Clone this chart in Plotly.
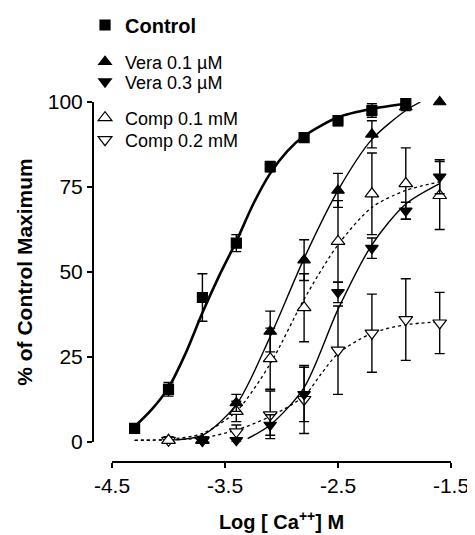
import plotly.graph_objects as go

# ---- data ----
x_ctrl = [-4.3, -4.0, -3.7, -3.4, -3.1, -2.8, -2.5, -2.2, -1.9]
y_ctrl = [4, 15.5, 42.5, 58.5, 81, 89.5, 94.5, 97.5, 99.5]
e_ctrl = [1, 2, 7, 2.5, 1.5, 1, 1.5, 2, 1]

x_v1 = [-3.7, -3.4, -3.1, -2.8, -2.5, -2.2, -1.9, -1.6]
y_v1 = [0.5, 11.5, 32.5, 53.5, 74, 90.5, 98.5, 100]
e_v1 = [0.5, 2.5, 6, 6, 5, 4, 1, 0]

x_v3 = [-3.7, -3.4, -3.1, -2.8, -2.5, -2.2, -1.9, -1.6]
y_v3 = [0.3, 0.5, 5, 14, 44, 57, 68, 78]
e_v3 = [0.5, 0.5, 3, 8, 3, 3, 2.5, 5]

x_c1 = [-4.0, -3.7, -3.4, -3.1, -2.8, -2.5, -2.2, -1.9, -1.6]
y_c1 = [0.5, 0.5, 9, 24.5, 39.5, 59, 73, 76, 72.5]
e_c1 = [1, 1, 3, 9, 10, 12, 12, 10.5, 10]

x_c2 = [-4.0, -3.7, -3.4, -3.1, -2.8, -2.5, -2.2, -1.9, -1.6]
y_c2 = [0.5, 0.5, 3, 8, 12.5, 27, 32, 36, 35]
e_c2 = [1, 1, 2, 7, 10, 13, 11.5, 12, 9]

# fitted curves, values
cx_ctrl = [-4.3, -4.15, -4.0, -3.85, -3.7, -3.55, -3.4, -3.25, -3.1, -2.95, -2.8, -2.5, -2.2, -1.9]
cy_ctrl = [4.5, 9.5, 16, 26, 38, 49, 59, 70, 79, 85.5, 90, 95.5, 98, 99.5]

cx_v1 = [-4.0, -3.7, -3.4, -3.1, -2.8, -2.5, -2.2, -1.9, -1.77]
cy_v1 = [0.5, 2, 11, 31, 54, 74, 89, 97.5, 100]

cx_v3 = [-3.3, -3.1, -2.8, -2.5, -2.2, -1.9, -1.6]
cy_v3 = [1, 5, 16, 39, 58, 70, 76]

cx_c1 = [-4.3, -4.0, -3.7, -3.4, -3.1, -2.8, -2.5, -2.2, -1.9, -1.6]
cy_c1 = [0.5, 0.8, 2.5, 9, 23, 42, 58, 69, 74, 76.5]

cx_c2 = [-4.3, -4.0, -3.7, -3.4, -3.1, -2.8, -2.65, -2.5, -2.2, -1.9, -1.6]
cy_c2 = [0.5, 0.6, 1.2, 3.5, 7.5, 13.5, 20, 26, 32, 34.5, 35.3]

xticks = [-4.5, -3.5, -2.5, -1.5]
yticks = [0, 25, 50, 75, 100]

FONT = "Liberation Sans, Arial, sans-serif"

fig = go.Figure()

# curves
for cx, cy, w, dash in [
    (cx_c2, cy_c2, 1.3, "dot"),
    (cx_c1, cy_c1, 1.3, "dot"),
    (cx_v3, cy_v3, 1.4, "solid"),
    (cx_v1, cy_v1, 1.4, "solid"),
    (cx_ctrl, cy_ctrl, 2.6, "solid"),
]:
    fig.add_trace(go.Scatter(x=cx, y=cy, mode="lines", showlegend=False,
                             line=dict(color="black", width=w, dash=dash, shape="spline", smoothing=0.8),
                             hoverinfo="skip", cliponaxis=False))

def pts(x, y, e, name, sym, fill, size, leg):
    fig.add_trace(go.Scatter(
        x=x, y=y, mode="markers", name=name, legend=leg,
        marker=dict(symbol=sym, size=size, color=fill, line=dict(color="black", width=1.2)),
        error_y=dict(type="data", array=e, visible=True, color="black", thickness=1.4, width=5),
        cliponaxis=False))

pts(x_c2, y_c2, e_c2, "Comp 0.2 mM", "triangle-down", "white", 12, "legend5")
pts(x_c1, y_c1, e_c1, "Comp 0.1 mM", "triangle-up", "white", 12, "legend4")
pts(x_v3, y_v3, e_v3, "Vera 0.3 µM", "triangle-down", "black", 11, "legend3")
pts(x_v1, y_v1, e_v1, "Vera 0.1 µM", "triangle-up", "black", 11, "legend2")
pts(x_ctrl, y_ctrl, e_ctrl, "<b>Control</b>", "square", "black", 10, "legend")

LX = -0.0223
def leg(y, size=18):
    return dict(x=LX, y=y, xanchor="left", yanchor="middle",
                font=dict(size=size, family=FONT), bgcolor="rgba(0,0,0,0)", itemwidth=30)

# page body has an 8px margin, so the figure is 8px smaller than the window
fig.update_layout(
    width=467, height=527,
    margin=dict(l=85, r=24, t=94, b=73, autoexpand=False),
    paper_bgcolor="white", plot_bgcolor="white",
    font=dict(family=FONT, color="black", size=18),
    legend=leg(1.2139, 20),
    legend2=leg(1.1111),
    legend3=leg(1.0556),
    legend4=leg(0.9556),
    legend5=leg(0.8944),
    xaxis=dict(domain=[0.0531, 1], range=[-4.5, -1.5], anchor="free", position=0,
               tickvals=xticks, ticktext=[f"{v:.1f}" for v in xticks],
               showline=True, linecolor="black", linewidth=2,
               ticks="outside", ticklen=5, tickwidth=2, tickcolor="black",
               showgrid=False, zeroline=False,
               tickfont=dict(size=21, family=FONT),
               title=dict(text="<b>Log [ Ca<sup>++</sup>] M</b>", font=dict(size=20, family=FONT), standoff=18)),
    yaxis=dict(domain=[0.0556, 1], range=[0, 100], anchor="free", position=0,
               tickvals=yticks,
               showline=True, linecolor="black", linewidth=2,
               ticks="outside", ticklen=5, tickwidth=2, tickcolor="black",
               showgrid=False, zeroline=False,
               tickfont=dict(size=21, family=FONT),
               title=dict(text="<b>% of Control Maximum</b>", font=dict(size=21, family=FONT), standoff=8)),
)

fig.write_html("out.html")
